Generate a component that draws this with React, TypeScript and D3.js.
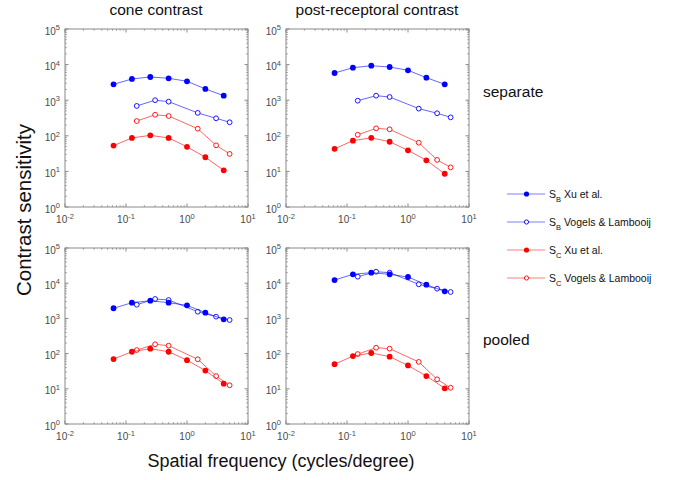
import React from "react";
import * as d3 from "d3";

const xuFreq = [0.0625, 0.125, 0.25, 0.5, 1, 2, 4];
const vlFreq = [0.15, 0.3, 0.5, 1.5, 3, 5];

const coneSepSBXu = [2790, 3950, 4490, 4120, 3400, 2070, 1340];
const coneSepSBVL = [690, 1000, 910, 440, 310, 240];
const coneSepSCXu = [53, 87, 103, 87, 49, 25, 10.7];
const coneSepSCVL = [260, 390, 360, 158, 54, 31];

const prSepSBXu = [5810, 8180, 9310, 8570, 6920, 4290, 2790];
const prSepSBVL = [970, 1340, 1230, 580, 430, 330];
const prSepSCXu = [43, 73, 88, 68, 39, 20.5, 8.6];
const prSepSCVL = [107, 162, 152, 64, 21, 13];

const conePoolSBXu = [1940, 2790, 3180, 2790, 2350, 1450, 940];
const conePoolSBVL = [2450, 3560, 3330, 1550, 1120, 900];
const conePoolSCXu = [70, 113, 138, 113, 65, 33, 14];
const conePoolSCVL = [126, 184, 168, 69, 23, 12.6];

const prPoolSBXu = [12300, 17900, 19900, 17900, 15000, 9060, 5890];
const prPoolSBVL = [15300, 21200, 19900, 9300, 6980, 5620];
const prPoolSCXu = [50, 85, 104, 82, 46, 23, 10.3];
const prPoolSCVL = [97, 147, 138, 58, 18.6, 10.7];

const xTickExps = [-2, -1, 0, 1];
const yTickExps = [0, 1, 2, 3, 4, 5];

const colTitles = ["cone contrast", "post-receptoral contrast"];
const rowTitles = ["separate", "pooled"];
const legendLabels = [
  { sub: "B", text: " Xu et al.", color: "#0000ff", filled: true },
  { sub: "B", text: " Vogels & Lambooij", color: "#0000ff", filled: false },
  { sub: "C", text: " Xu et al.", color: "#ff0000", filled: true },
  { sub: "C", text: " Vogels & Lambooij", color: "#ff0000", filled: false },
];

const FONT = "'Liberation Sans', Arial, Helvetica, sans-serif";
const BLUE = "#0000ff";
const RED = "#ff0000";

type Series = { x: number[]; y: number[]; color: string; filled: boolean };

const panels = [
  {
    x0: 65, x1: 248, y0: 29, y1: 207,
    series: [
      { x: xuFreq, y: coneSepSBXu, color: BLUE, filled: true },
      { x: vlFreq, y: coneSepSBVL, color: BLUE, filled: false },
      { x: vlFreq, y: coneSepSCVL, color: RED, filled: false },
      { x: xuFreq, y: coneSepSCXu, color: RED, filled: true },
    ],
  },
  {
    x0: 286, x1: 469, y0: 29, y1: 207,
    series: [
      { x: xuFreq, y: prSepSBXu, color: BLUE, filled: true },
      { x: vlFreq, y: prSepSBVL, color: BLUE, filled: false },
      { x: vlFreq, y: prSepSCVL, color: RED, filled: false },
      { x: xuFreq, y: prSepSCXu, color: RED, filled: true },
    ],
  },
  {
    x0: 65, x1: 248, y0: 248, y1: 424,
    series: [
      { x: vlFreq, y: conePoolSBVL, color: BLUE, filled: false },
      { x: xuFreq, y: conePoolSBXu, color: BLUE, filled: true },
      { x: vlFreq, y: conePoolSCVL, color: RED, filled: false },
      { x: xuFreq, y: conePoolSCXu, color: RED, filled: true },
    ],
  },
  {
    x0: 286, x1: 469, y0: 248, y1: 424,
    series: [
      { x: vlFreq, y: prPoolSBVL, color: BLUE, filled: false },
      { x: xuFreq, y: prPoolSBXu, color: BLUE, filled: true },
      { x: vlFreq, y: prPoolSCVL, color: RED, filled: false },
      { x: xuFreq, y: prPoolSCXu, color: RED, filled: true },
    ],
  },
];

function Panel({ p }: { p: (typeof panels)[number] }) {
  const xs = d3.scaleLog().domain([0.01, 10]).range([p.x0, p.x1]);
  const ys = d3.scaleLog().domain([1, 100000]).range([p.y1, p.y0]);
  const boxColor = "#8a8a8a";
  const labelColor = "#4a4a4a";
  const minorX: number[] = [];
  for (let e = -2; e < 1; e++) for (let m = 2; m <= 9; m++) minorX.push(m * Math.pow(10, e));
  const minorY: number[] = [];
  for (let e = 0; e < 5; e++) for (let m = 2; m <= 9; m++) minorY.push(m * Math.pow(10, e));
  const line = d3
    .line<[number, number]>()
    .x((d) => xs(d[0]))
    .y((d) => ys(d[1]));
  return (
    <g>
      <rect x={p.x0} y={p.y0} width={p.x1 - p.x0} height={p.y1 - p.y0} fill="white" stroke={boxColor} strokeWidth={1} />
      {xTickExps.map((e) => {
        const x = xs(Math.pow(10, e));
        return (
          <g key={"xt" + e}>
            <line x1={x} x2={x} y1={p.y1} y2={p.y1 - 3.5} stroke={boxColor} />
            <line x1={x} x2={x} y1={p.y0} y2={p.y0 + 3.5} stroke={boxColor} />
            <text x={x} y={p.y1 + 16} textAnchor="middle" fontSize={10} fill={labelColor} fontFamily={FONT}>
              10<tspan dy={-4.5} fontSize={7.5}>{e}</tspan>
            </text>
          </g>
        );
      })}
      {minorX.map((v, i) => {
        const x = xs(v);
        return (
          <g key={"mx" + i}>
            <line x1={x} x2={x} y1={p.y1} y2={p.y1 - 1.8} stroke={boxColor} strokeWidth={0.8} />
            <line x1={x} x2={x} y1={p.y0} y2={p.y0 + 1.8} stroke={boxColor} strokeWidth={0.8} />
          </g>
        );
      })}
      {yTickExps.map((e) => {
        const y = ys(Math.pow(10, e));
        return (
          <g key={"yt" + e}>
            <line x1={p.x0} x2={p.x0 + 3.5} y1={y} y2={y} stroke={boxColor} />
            <line x1={p.x1} x2={p.x1 - 3.5} y1={y} y2={y} stroke={boxColor} />
            <text x={p.x0 - 5} y={y + 5.5} textAnchor="end" fontSize={10} fill={labelColor} fontFamily={FONT}>
              10<tspan dy={-4.5} fontSize={7.5}>{e}</tspan>
            </text>
          </g>
        );
      })}
      {minorY.map((v, i) => {
        const y = ys(v);
        return (
          <g key={"my" + i}>
            <line x1={p.x0} x2={p.x0 + 1.8} y1={y} y2={y} stroke={boxColor} strokeWidth={0.8} />
            <line x1={p.x1} x2={p.x1 - 1.8} y1={y} y2={y} stroke={boxColor} strokeWidth={0.8} />
          </g>
        );
      })}
      {p.series.map((s: Series, i: number) => (
        <g key={"s" + i}>
          <path
            d={line(s.x.map((x, j) => [x, s.y[j]] as [number, number])) || ""}
            fill="none"
            stroke={s.color}
            strokeWidth={0.8}
            strokeOpacity={0.75}
          />
          {s.x.map((x, j) =>
            s.filled ? (
              <circle key={j} cx={xs(x)} cy={ys(s.y[j])} r={2.9} fill={s.color} />
            ) : (
              <circle key={j} cx={xs(x)} cy={ys(s.y[j])} r={2.4} fill="white" stroke={s.color} strokeWidth={0.9} />
            )
          )}
        </g>
      ))}
    </g>
  );
}

export default function App() {
  return (
    <svg
      width={673}
      height={480}
      style={{ position: "absolute", left: 0, top: 0, background: "white" }}
      fontFamily={FONT}
    >
      <rect width={673} height={480} fill="white" />
      {panels.map((p, i) => (
        <Panel key={i} p={p} />
      ))}
      <text x={156} y={15} textAnchor="middle" fontSize={15.5} fill="#111">{colTitles[0]}</text>
      <text x={377} y={15} textAnchor="middle" fontSize={15.5} fill="#111">{colTitles[1]}</text>
      <text x={483} y={97} fontSize={15.5} fill="#111">{rowTitles[0]}</text>
      <text x={483} y={345} fontSize={15.5} fill="#111">{rowTitles[1]}</text>
      <text
        transform="translate(31,210) rotate(-90)"
        textAnchor="middle"
        fontSize={20.5}
        fill="#111"
      >
        Contrast sensitivity
      </text>
      <text x={281} y={467} textAnchor="middle" fontSize={18} fill="#111">
        Spatial frequency (cycles/degree)
      </text>
      {legendLabels.map((l, i) => {
        const y = 194 + i * 28;
        return (
          <g key={"lg" + i}>
            <line x1={507} x2={545} y1={y} y2={y} stroke={l.color} strokeWidth={1} strokeOpacity={0.5} />
            {l.filled ? (
              <circle cx={526.5} cy={y} r={2.6} fill={l.color} />
            ) : (
              <circle cx={526.5} cy={y} r={2.1} fill="white" stroke={l.color} strokeWidth={0.9} />
            )}
            <text x={549} y={y + 3.5} fontSize={10.5} fill="#111">
              S<tspan dy={4} fontSize={7.5}>{l.sub}</tspan>
              <tspan dy={-4}>{l.text}</tspan>
            </text>
          </g>
        );
      })}
    </svg>
  );
}
